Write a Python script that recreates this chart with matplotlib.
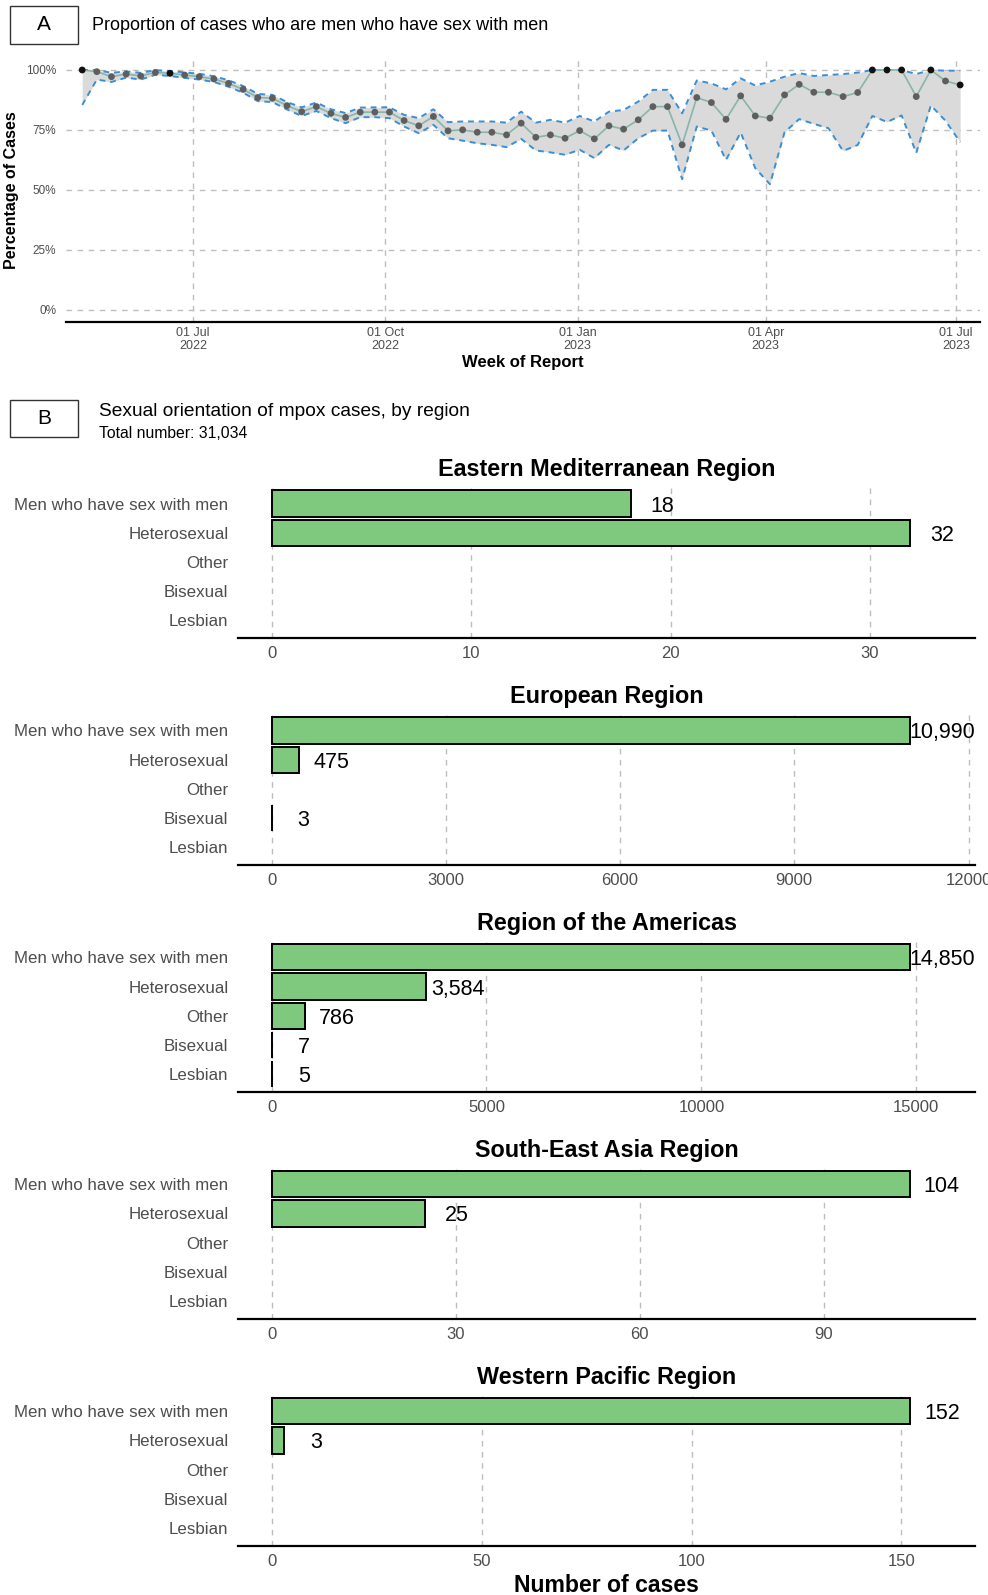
import matplotlib
matplotlib.use("Agg")
import matplotlib.pyplot as plt
import matplotlib.dates as mdates
from matplotlib.patches import Rectangle
import numpy as np
import pandas as pd

plt.rcParams['font.family'] = ['Liberation Sans', 'DejaVu Sans']

# ---- panel A data: weekly share of cases who are MSM (%)
first_week = "2022-05-09"
msm_pct = [100, 99.3, 97.2, 98.3, 97.5, 99.0, 98.6, 97.9, 97.2, 96.25,
           94.4, 91.9, 88.5, 88.2, 85.1, 82.6, 84.7, 81.9, 80.2, 82.4,
           82.4, 82.4, 78.9, 76.7, 80.6, 74.6, 75.0, 74.0, 74.0, 72.9,
           77.8, 71.9, 72.9, 71.5, 74.7, 71.25, 76.7, 75.3, 79.2, 84.7,
           84.7, 68.75, 88.5, 86.4, 79.4, 89.2, 80.8, 79.9, 89.6, 94.0,
           90.7, 90.7, 88.9, 90.6, 100, 100, 100, 88.9, 100, 95.4, 93.75]
msm_upper = [100, 100, 98.8, 99.4, 98.8, 99.9, 99.6, 99.0, 98.4, 97.4,
             95.7, 93.3, 90.0, 89.6, 86.6, 84.4, 86.4, 83.6, 82.0, 84.3,
             84.4, 84.4, 81.25, 79.9, 83.6, 78.2, 78.5, 78.5, 78.5, 78.0,
             82.6, 78.0, 79.2, 78.0, 80.8, 78.5, 82.6, 83.3, 86.8, 91.7,
             91.7, 81.9, 95.6, 94.4, 91.9, 96.5, 93.5, 95.1, 97.2, 98.7,
             97.5, 97.9, 98.3, 98.9, 100, 100, 100, 98.3, 100, 99.7, 99.7]
msm_lower = [85.4, 96.0, 95.0, 96.8, 96.0, 98.0, 97.5, 96.7, 96.0, 95.0,
             93.0, 90.5, 87.0, 86.6, 83.5, 80.8, 82.9, 79.9, 77.8, 80.3,
             80.3, 79.9, 76.4, 73.6, 77.1, 71.5, 70.5, 69.4, 68.75, 67.8,
             71.25, 66.4, 65.6, 64.6, 66.7, 63.2, 68.75, 66.4, 71.5, 74.7,
             74.7, 54.4, 76.4, 74.7, 62.5, 73.9, 59.0, 52.3, 74.0, 79.5,
             77.5, 75.7, 66.2, 68.7, 80.8, 78.3, 81.0, 65.4, 85.2, 78.8, 69.9]
# weeks drawn with a black dot
dark_weeks = [0, 6, 54, 55, 56, 58, 60]

# ---- panel B data: sexual orientation by region
orientations = ["Men who have sex with men", "Heterosexual", "Other",
                "Bisexual", "Lesbian"]
regions = ["Eastern Mediterranean Region", "European Region",
           "Region of the Americas", "South-East Asia Region",
           "Western Pacific Region"]
emr_cases = [18, 32, 0, 0, 0]
eur_cases = [10990, 475, 0, 3, 0]
amr_cases = [14850, 3584, 786, 7, 5]
sear_cases = [104, 25, 0, 0, 0]
wpr_cases = [152, 3, 0, 0, 0]
region_cases = [emr_cases, eur_cases, amr_cases, sear_cases, wpr_cases]
tick_steps = [10, 3000, 5000, 30, 50]
total_label = "Total number: 31,034"

W, H = 988, 1595
fig = plt.figure(figsize=(W / 100, H / 100), dpi=100)


def box(left, top, right, bottom):
    return [left / W, 1 - bottom / H, (right - left) / W, (bottom - top) / H]


grey_txt = "#4d4d4d"
grid_kw = dict(color="#bdbdbd", linestyle=(0, (4, 4)), linewidth=1.0)

# ---------------- panel A ----------------
ax = fig.add_axes(box(66, 58, 980, 321.5))
weeks = pd.date_range(first_week, periods=len(msm_pct), freq="7D")
ax.fill_between(weeks, msm_lower, msm_upper, color="#dadada", zorder=1, lw=0)
ax.plot(weeks, msm_upper, color="#3a8fd4", lw=1.4, ls=(0, (3, 2.5)), zorder=2)
ax.plot(weeks, msm_lower, color="#3a8fd4", lw=1.4, ls=(0, (3, 2.5)), zorder=2)
ax.plot(weeks, msm_pct, color="#88b5a9", lw=1.2, zorder=3)
dot_cols = ["#111111" if i in dark_weeks else "#5e5e5e" for i in range(len(msm_pct))]
ax.scatter(weeks, msm_pct, s=24, c=dot_cols, zorder=4, lw=0)

ax.set_ylim(-5, 105)
ax.set_xlim(pd.Timestamp("2022-05-01 06:00"), pd.Timestamp("2023-07-12 12:00"))
ax.set_yticks([0, 25, 50, 75, 100])
ax.set_yticklabels([f"{v}%" for v in [0, 25, 50, 75, 100]])
ax.xaxis.set_major_locator(mdates.MonthLocator(bymonth=[1, 4, 7, 10]))
ax.xaxis.set_major_formatter(mdates.DateFormatter("%d %b\n%Y"))
ax.grid(True, **grid_kw)
ax.set_axisbelow(True)
for s in ["top", "right", "left"]:
    ax.spines[s].set_visible(False)
ax.spines["bottom"].set_linewidth(1.6)
ax.tick_params(length=0, colors=grey_txt, labelsize=9)
ax.tick_params(axis="y", labelsize=8.5, pad=7)
ax.tick_params(axis="x", pad=4)
for lab in ax.get_xticklabels():
    lab.set_linespacing(1.15)
ax.set_xlabel("Week of Report", fontsize=12, fontweight="bold", labelpad=2)
ax.set_ylabel("Percentage of Cases", fontsize=11.5, fontweight="bold", labelpad=5)

# panel headers
for letter, (l, t, r, b) in [("A", (10, 6, 78, 44)), ("B", (10, 400, 78, 437))]:
    fig.patches.append(Rectangle((l / W, 1 - b / H), (r - l) / W, (b - t) / H,
                                 transform=fig.transFigure, fill=False,
                                 edgecolor="#333333", lw=1.0))
    fig.text((l + r) / 2 / W, 1 - (t + b) / 2 / H, letter, fontsize=15,
             ha="center", va="center")
fig.text(92 / W, 1 - 26 / H, "Proportion of cases who are men who have sex with men",
         fontsize=13, va="center")
fig.text(99 / W, 1 - 411 / H, "Sexual orientation of mpox cases, by region",
         fontsize=13.8, va="center")
fig.text(99 / W, 1 - 433 / H, total_label, fontsize=11.3, va="center")

# ---------------- panel B ----------------
ypos = np.arange(len(orientations))[::-1]
for i, (region, cases, step) in enumerate(zip(regions, region_cases, tick_steps)):
    bottom = 638 + i * 226.9
    axb = fig.add_axes(box(238, bottom - 152, 975, bottom))
    top_val = max(cases)
    shown = [(y, v) for y, v in zip(ypos, cases) if v > 0]
    axb.barh([y for y, _ in shown], [v for _, v in shown], height=0.9,
             color="#7fc97f", edgecolor="black", lw=1.4, zorder=3)
    for y, v in shown:
        axb.text(v + 0.05 * top_val, y, f"{v:,}", ha="center",
                 va="center_baseline", fontsize=15.5, color="black", zorder=4)
    axb.set_xlim(-0.0526 * top_val, 1.102 * top_val)
    axb.set_ylim(-0.6, len(orientations) - 0.4)
    axb.set_yticks(ypos)
    axb.set_yticklabels(orientations)
    axb.set_xticks(np.arange(0, 1.102 * top_val, step))
    axb.grid(True, axis="x", **grid_kw)
    axb.set_axisbelow(True)
    for s in ["top", "right", "left"]:
        axb.spines[s].set_visible(False)
    axb.spines["bottom"].set_linewidth(1.6)
    axb.tick_params(length=0, colors=grey_txt)
    axb.tick_params(axis="y", labelsize=12.2, pad=7)
    axb.tick_params(axis="x", labelsize=12, pad=6)
    axb.set_title(region, fontsize=16.8, fontweight="bold", pad=7)

fig.text(606 / W, 1 - 1585 / H, "Number of cases", fontsize=16.6,
         fontweight="bold", ha="center", va="center")

fig.savefig("out.png", dpi=100)
